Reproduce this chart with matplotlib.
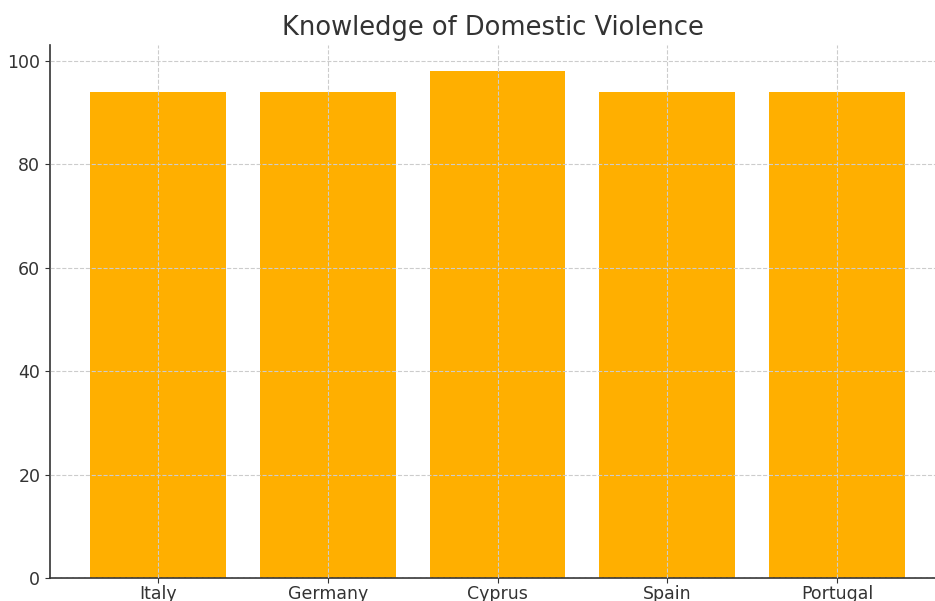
import matplotlib.pyplot as plt

countries = ['Italy', 'Germany', 'Cyprus', 'Spain', 'Portugal']
knowledge = [94, 94, 98, 94, 94]

fig = plt.figure(figsize=(9.35, 6.01), dpi=100)
ax = fig.add_axes([50 / 935, 23 / 601, 885 / 935, 533 / 601])

ax.bar(countries, knowledge, width=0.8, color='#FFAF00', zorder=2)
ax.set_xlim(-0.636, 4.577)
ax.set_ylim(0, 103.1)
ax.set_yticks([0, 20, 40, 60, 80, 100])

ax.grid(True, linestyle='--', color='#cccccc', linewidth=0.8, zorder=3)
ax.set_axisbelow(False)
for s in ['top', 'right']:
    ax.spines[s].set_visible(False)
for s in ['left', 'bottom']:
    ax.spines[s].set_color('#333333')
    ax.spines[s].set_linewidth(1.2)

ax.tick_params(labelsize=12.5, colors='#333333')
ax.tick_params(axis='x', pad=1.5)
ax.set_title('Knowledge of Domestic Violence', fontsize=18.5, color='#333333', pad=7)

plt.savefig('out.png', dpi=100)
